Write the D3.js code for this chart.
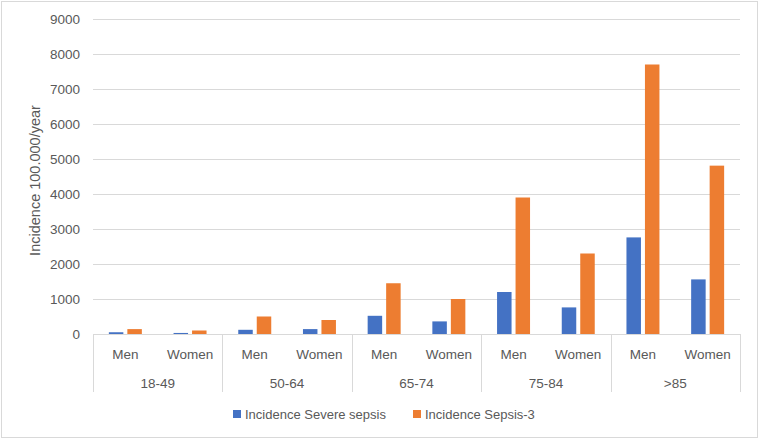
<!DOCTYPE html>
<html><head><meta charset="utf-8">
<script src="https://cdn.jsdelivr.net/npm/d3@7"></script>
<style>body{margin:0;background:#fff}svg text{font-family:"Liberation Sans",Arial,sans-serif;fill:#595959}</style>
</head><body><svg id="c" width="761" height="441"></svg>
<script>
const ageGroups = ["18-49","50-64","65-74","75-84",">85"];
const sexes = ["Men","Women"];
const seriesNames = ["Incidence Severe sepsis","Incidence Sepsis-3"];
const severeSepsis = [50,30, 120,140, 520,360, 1200,760, 2760,1560];
const sepsis3 = [140,100, 500,400, 1450,1000, 3900,2300, 7700,4810];
const yTicks = [0,1000,2000,3000,4000,5000,6000,7000,8000,9000];
const colors = ["#4472C4","#ED7D31"];

const svg = d3.select("#c");
const m = {l:93, r:740, t:19, b:334};
svg.append("rect").attr("x",1.5).attr("y",1.5).attr("width",756).attr("height",436)
  .attr("fill","#fff").attr("stroke","#d9d9d9");

const y = d3.scaleLinear().domain([0,9000]).range([m.b,m.t]);
const cats = [];
ageGroups.forEach(a=>sexes.forEach(s=>cats.push(a+"|"+s)));
const x = d3.scaleBand().domain(cats).range([m.l,m.r]);
const xg = d3.scaleBand().domain(ageGroups).range([m.l,m.r]);
const bw = x.bandwidth()*0.224, gap = 4;

// gridlines
svg.append("g").selectAll("line").data(yTicks.filter(d=>d>0)).join("line")
  .attr("x1",m.l).attr("x2",m.r).attr("y1",d=>y(d)+0.5).attr("y2",d=>y(d)+0.5)
  .attr("stroke","#d9d9d9").attr("stroke-width",1);

// y axis labels
const ya = svg.append("g").attr("transform",`translate(${m.l},0)`)
  .call(d3.axisLeft(y).tickValues(yTicks).tickFormat(d3.format("d")).tickSize(0).tickPadding(13));
ya.select(".domain").remove();
ya.selectAll("text").attr("font-size",13.5).style("fill","#595959");

// bars
[severeSepsis, sepsis3].forEach((vals,si)=>{
  svg.append("g").selectAll("rect").data(vals).join("rect")
    .attr("x",(d,i)=>x(cats[i])+x.bandwidth()/2 + (si===0 ? -gap/2-bw : gap/2))
    .attr("width",bw)
    .attr("y",d=>y(d)).attr("height",d=>y(0)-y(d))
    .attr("fill",colors[si]);
});

// x axis line
svg.append("line").attr("x1",m.l).attr("x2",m.r).attr("y1",m.b+0.5).attr("y2",m.b+0.5)
  .attr("stroke","#d9d9d9");
// group separators
const seps = ageGroups.map(a=>xg(a)).concat([m.r]);
svg.append("g").selectAll("line").data(seps).join("line")
  .attr("x1",d=>Math.round(d)+0.5).attr("x2",d=>Math.round(d)+0.5).attr("y1",m.b).attr("y2",392)
  .attr("stroke","#d9d9d9");
// sex labels
svg.append("g").selectAll("text").data(cats).join("text")
  .attr("x",d=>x(d)+x.bandwidth()/2).attr("y",359).attr("text-anchor","middle")
  .attr("font-size",13.5).text(d=>d.split("|")[1]);
// age labels
svg.append("g").selectAll("text").data(ageGroups).join("text")
  .attr("x",d=>xg(d)+xg.bandwidth()/2).attr("y",388).attr("text-anchor","middle")
  .attr("font-size",13.5).text(d=>d);

// y title
svg.append("text").attr("transform",`translate(40,${(m.t+m.b)/2+4}) rotate(-90)`)
  .attr("text-anchor","middle").attr("font-size",14.5).text("Incidence 100.000/year");

// legend
const lx = [233, 413];
seriesNames.forEach((n,i)=>{
  svg.append("rect").attr("x",lx[i]).attr("y",410).attr("width",8).attr("height",8).attr("fill",colors[i]);
  svg.append("text").attr("x",lx[i]+12).attr("y",418.5).attr("font-size",13).text(n);
});
</script></body></html>
